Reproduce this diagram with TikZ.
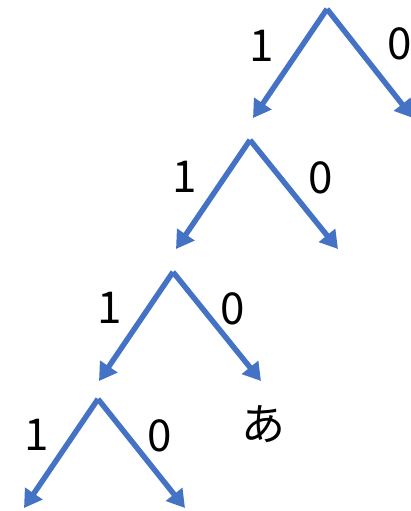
\documentclass[tikz,border=0pt]{standalone}
\usepackage{fontspec}
\setmainfont{Noto Sans CJK JP}
\usetikzlibrary{arrows.meta}
\definecolor{azul}{HTML}{4472C4}
\tikzset{
	rama/.style={azul, line width=3.1pt, -{Triangle[length=10pt,width=11.5pt]}},
	etiqueta/.style={font=\fontsize{25}{25}\selectfont, inner sep=0pt},
}

\begin{document}
\begin{tikzpicture}[x=0.02cm, y=-0.02cm]
		\useasboundingbox (0,0) rectangle (410,511);
		
		% Nivel 1
		\coordinate (v1) at (327,9);
		\coordinate (i1) at (253,118);
		\coordinate (d1) at (413,118);
		\draw[rama] (v1) -- (i1);
		\draw[rama] (v1) -- (d1);
		\node[etiqueta] (uno1) at (262,46) {1};
		\node[etiqueta] (cero1) at (400,44) {0};
		
		% Nivel 2
		\coordinate (v2) at (250,140);
		\coordinate (i2) at (176,249);
		\coordinate (d2) at (338,249);
		\draw[rama] (v2) -- (i2);
		\draw[rama] (v2) -- (d2);
		\node[etiqueta] (uno2) at (185,177) {1};
		\node[etiqueta] (cero2) at (321,178) {0};
		
		% Nivel 3
		\coordinate (v3) at (173,272);
		\coordinate (i3) at (99,381);
		\coordinate (d3) at (261,381);
		\draw[rama] (v3) -- (i3);
		\draw[rama] (v3) -- (d3);
		\node[etiqueta] (uno3) at (110,308) {1};
		\node[etiqueta] (cero3) at (233,309) {0};
		
		% Nivel 4
		\coordinate (v4) at (98,399);
		\coordinate (i4) at (24,508);
		\coordinate (d4) at (185,508);
		\draw[rama] (v4) -- (i4);
		\draw[rama] (v4) -- (d4);
		\node[etiqueta] (uno4) at (37,435) {1};
		\node[etiqueta] (cero4) at (160,436) {0};
		
		% Hoja
		\node[etiqueta] (hoja) at (263,424) {あ};
	\end{tikzpicture}
\end{document}
